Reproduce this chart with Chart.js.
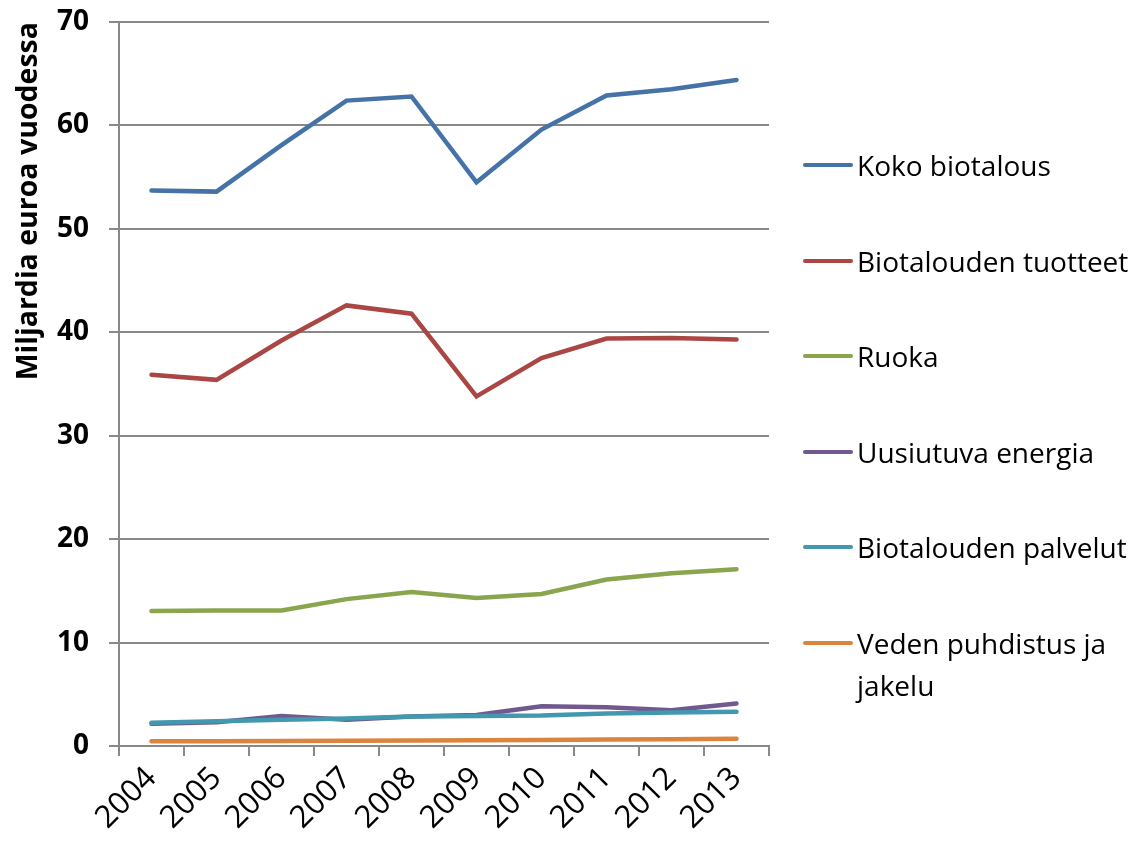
<!DOCTYPE html>
<html>
<head>
<meta charset="utf-8">
<script src="https://cdn.jsdelivr.net/npm/chart.js@4.4.1/dist/chart.umd.min.js"></script>
<style>
  html, body { margin: 0; padding: 0; background: #fff; }
  #wrap { position: relative; width: 1144px; height: 842px; }
  #legend { position: absolute; left: 0; top: 0; width: 1144px; height: 842px; pointer-events: none; }
  .item { position: absolute; left: 803px; width: 341px; font-family: "Open Sans", sans-serif; font-size: 28px; line-height: 42px; color: #000; }
  .item .swatch { position: absolute; left: 0; top: 19px; width: 50px; height: 4px; border-radius: 2px; }
  .item .label { margin-left: 54px; }
</style>
</head>
<body>
<div id="wrap">
  <canvas id="chart" width="1144" height="842"></canvas>
  <div id="legend"></div>
</div>
<script>
// years on the category axis
const years = ['2004', '2005', '2006', '2007', '2008', '2009', '2010', '2011', '2012', '2013'];

// series names (legend) and colours
const seriesNames = ['Koko biotalous', 'Biotalouden tuotteet', 'Ruoka', 'Uusiutuva energia', 'Biotalouden palvelut', 'Veden puhdistus ja jakelu'];
const seriesColors = ['#4572A7', '#AA4643', '#89A54E', '#71588F', '#4198AF', '#DB843D'];

// values, billions of euros per year
const kokoBiotalous = [53.7, 53.6, 58.1, 62.4, 62.8, 54.5, 59.6, 62.9, 63.5, 64.4];
const tuotteet = [35.9, 35.4, 39.2, 42.6, 41.8, 33.8, 37.5, 39.4, 39.45, 39.3];
const ruoka = [13.05, 13.1, 13.1, 14.2, 14.9, 14.3, 14.7, 16.1, 16.7, 17.1];
const energia = [2.15, 2.3, 2.9, 2.55, 2.85, 3.0, 3.85, 3.75, 3.45, 4.1];
const palvelut = [2.25, 2.4, 2.55, 2.65, 2.85, 2.9, 2.95, 3.15, 3.25, 3.3];
const vesi = [0.45, 0.47, 0.48, 0.5, 0.52, 0.55, 0.58, 0.62, 0.66, 0.7];

// y axis
const yTicks = [0, 10, 20, 30, 40, 50, 60, 70];
const yTitle = 'Miljardia euroa vuodessa';

const seriesValues = [kokoBiotalous, tuotteet, ruoka, energia, palvelut, vesi];
const gridGray = '#898989';

const datasets = seriesValues.map((vals, i) => ({
  label: seriesNames[i],
  data: vals,
  borderColor: seriesColors[i],
  backgroundColor: seriesColors[i],
  borderWidth: 4.5,
  borderCapStyle: 'round',
  pointRadius: 0,
  pointHoverRadius: 0,
  tension: 0,
  fill: false,
  order: seriesValues.length - i  // later series drawn on top, like the original
}));

new Chart(document.getElementById('chart'), {
  type: 'line',
  data: { labels: years, datasets: datasets },
  options: {
    responsive: false,
    animation: false,
    layout: { padding: { top: 22, right: 375, bottom: 0, left: 0 } },
    plugins: { legend: { display: false }, tooltip: { enabled: false } },
    scales: {
      x: {
        offset: true,
        grid: { offset: true, drawOnChartArea: false, drawTicks: true, tickLength: 10, color: gridGray, lineWidth: 2 },
        border: { display: true, color: gridGray, width: 2 },
        ticks: {
          color: '#000',
          font: { family: 'Open Sans', size: 31 },
          maxRotation: 45,
          minRotation: 45,
          padding: 4
        },
        afterFit: (scale) => { scale.height = 96; }
      },
      y: {
        min: 0,
        max: 70,
        afterBuildTicks: (scale) => { scale.ticks = yTicks.map(v => ({ value: v })); },
        grid: { color: gridGray, lineWidth: 2, tickLength: 10 },
        border: { display: true, color: gridGray, width: 2 },
        ticks: {
          color: '#000',
          font: { family: 'Open Sans', size: 28, weight: 'bold' },
          padding: 20
        },
        title: {
          display: true,
          text: yTitle,
          align: 'end',
          color: '#000',
          font: { family: 'Open Sans', size: 28.5, weight: 'bold' },
          padding: { top: 12, bottom: 4 }
        },
        afterFit: (scale) => {
          scale.width = 119;
          // tick padding should not push the plot down
          scale.paddingTop = 0;
          scale.paddingBottom = 0;
        }
      }
    }
  }
});

// legend on the right, built from the series arrays
const legend = document.getElementById('legend');
seriesNames.forEach((name, i) => {
  const item = document.createElement('div');
  item.className = 'item';
  item.style.top = (144 + i * 95.6) + 'px';
  const sw = document.createElement('span');
  sw.className = 'swatch';
  sw.style.background = seriesColors[i];
  const lab = document.createElement('div');
  lab.className = 'label';
  lab.textContent = name;
  item.appendChild(sw);
  item.appendChild(lab);
  legend.appendChild(item);
});
</script>
</body>
</html>
